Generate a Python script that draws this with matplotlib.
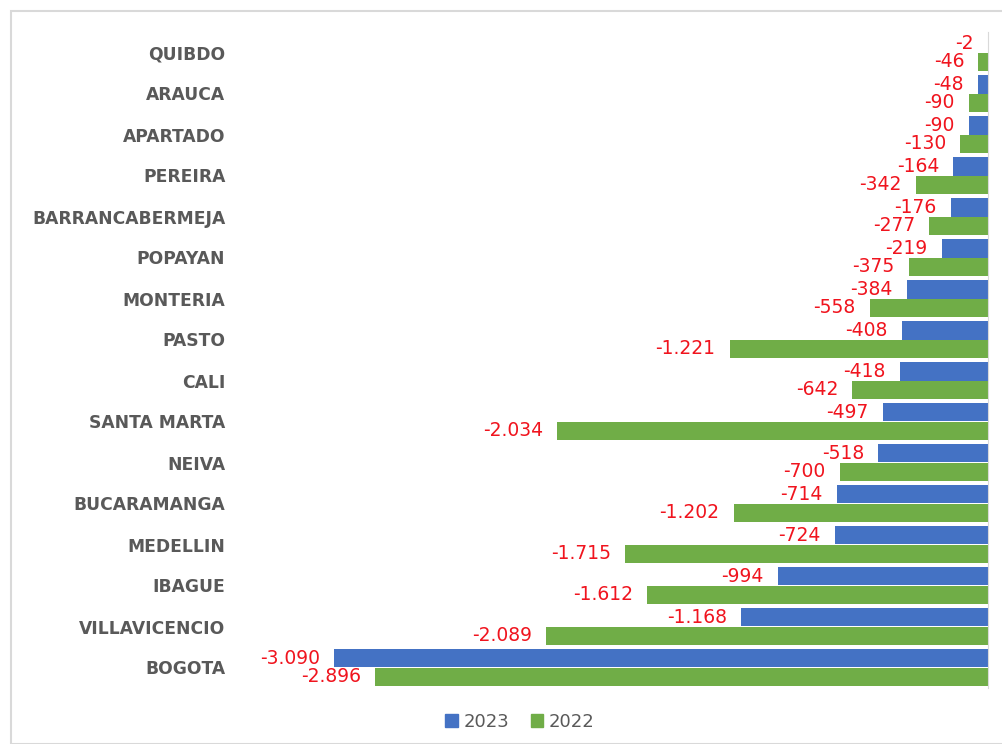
import matplotlib.pyplot as plt
from matplotlib.patches import Rectangle, Patch
import numpy as np

cities = ['QUIBDO', 'ARAUCA', 'APARTADO', 'PEREIRA', 'BARRANCABERMEJA', 'POPAYAN',
          'MONTERIA', 'PASTO', 'CALI', 'SANTA MARTA', 'NEIVA', 'BUCARAMANGA',
          'MEDELLIN', 'IBAGUE', 'VILLAVICENCIO', 'BOGOTA']
v2023 = [-2, -48, -90, -164, -176, -219, -384, -408, -418, -497, -518, -714,
         -724, -994, -1168, -3090]
v2022 = [-46, -90, -130, -342, -277, -375, -558, -1221, -642, -2034, -700, -1202,
         -1715, -1612, -2089, -2896]

blue = '#4472C4'
green = '#70AD47'
red = '#F0141E'
grey = '#595959'

fig = plt.figure(figsize=(10.03, 7.44), dpi=100)
W, H = 1003, 744

# chart frame
fig.patches.append(Rectangle((11 / W, 0), 1.2, (H - 11) / H, transform=fig.transFigure,
                             fill=False, edgecolor='#d9d9d9', linewidth=1.5))

ax = fig.add_axes([235 / W, (H - 688) / H, (988 - 235) / W, (688 - 32) / H])

y = np.arange(len(cities))
h = 0.44
ax.barh(y - h / 2, v2023, height=h, color=blue, label='2023')
ax.barh(y + h / 2, v2022, height=h, color=green, label='2022')

def fmt(v):
    return '{:,}'.format(v).replace(',', '.')

for i in range(len(cities)):
    ax.annotate(fmt(v2023[i]), (v2023[i], y[i] - h / 2), xytext=(-14, 0),
                textcoords='offset pixels', ha='right', va='center',
                color=red, fontsize=13.5)
    ax.annotate(fmt(v2022[i]), (v2022[i], y[i] + h / 2), xytext=(-14, 0),
                textcoords='offset pixels', ha='right', va='center',
                color=red, fontsize=13.5)

ax.set_xlim(-3557, 0)
ax.set_ylim(len(cities) - 0.5, -0.5)
ax.set_yticks(y)
ax.set_yticklabels(cities, fontsize=12.3, fontweight='bold', color=grey)
ax.tick_params(axis='y', length=0, pad=7)
ax.set_xticks([])
for s in ['top', 'bottom', 'left']:
    ax.spines[s].set_visible(False)
ax.spines['right'].set_color('#d9d9d9')

handles = [Patch(color=blue, label='2023'), Patch(color=green, label='2022')]
fig.legend(handles=handles, loc='center', bbox_to_anchor=(520 / W, (H - 722) / H),
           ncol=2, frameon=False, fontsize=13, labelcolor=grey,
           handlelength=0.7, handleheight=0.7, handletextpad=0.3, columnspacing=1.2)

fig.savefig('out.png', dpi=100)
